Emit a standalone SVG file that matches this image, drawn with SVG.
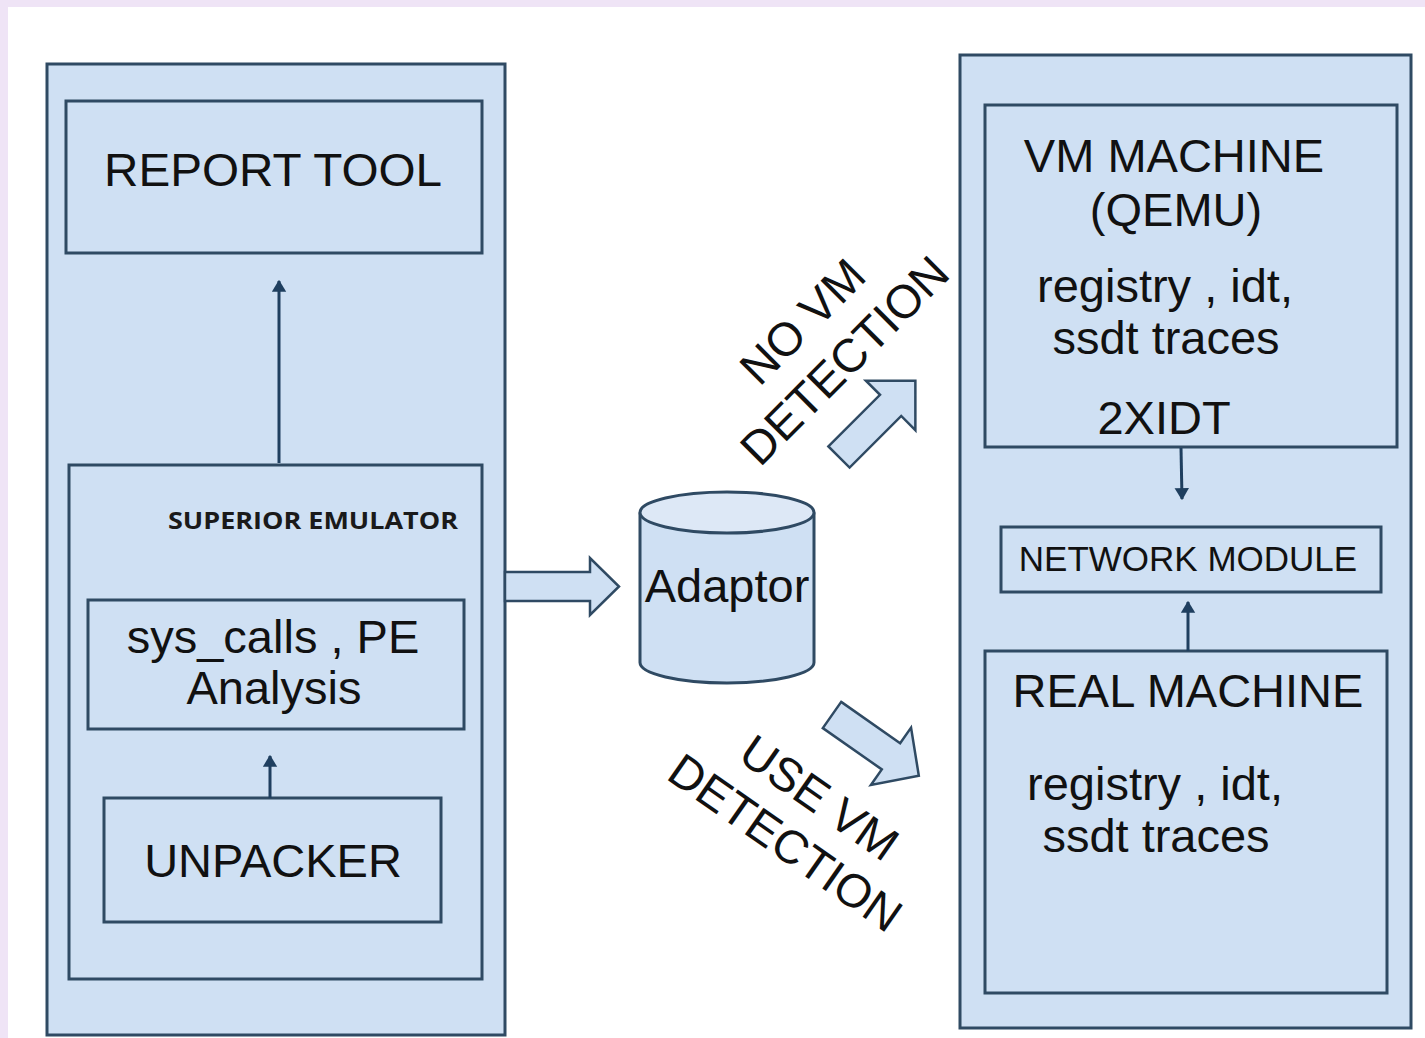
<svg xmlns="http://www.w3.org/2000/svg" width="1425" height="1038" viewBox="0 0 1425 1038">
  <defs>
    <style>
      .box { fill: #cfe0f3; stroke: #2f4a63; stroke-width: 3; }
      .big { fill: #cfe0f3; stroke: #2f4a63; stroke-width: 3; }
      .fat { fill: #cfe0f3; stroke: #2f4a63; stroke-width: 2.5; stroke-linejoin: miter; }
      .t { font-family: "Liberation Sans", Arial, sans-serif; font-size: 47px; fill: #111; text-anchor: middle; }
      .sm { font-family: "Liberation Sans", Arial, sans-serif; font-size: 35px; fill: #111; text-anchor: middle; }
      .hd { font-family: "Open Sans", "Liberation Sans", sans-serif; font-weight: bold; font-size: 24px; fill: #1a1a1a; text-anchor: middle; }
      .rot { font-family: "Liberation Sans", Arial, sans-serif; font-size: 47px; fill: #111; text-anchor: middle; }
      .link { stroke: #1f3f5f; stroke-width: 3; fill: none; marker-end: url(#tip); }
    </style>
    <marker id="tip" viewBox="0 0 10 12" refX="9" refY="6" markerUnits="userSpaceOnUse" markerWidth="12" markerHeight="15" orient="auto">
      <path d="M0,0 L10,6 L0,12 Z" fill="#1f3f5f"/>
    </marker>
  </defs>

  <!-- page -->
  <rect x="0" y="0" width="1425" height="1038" fill="#ffffff"/>
  <rect x="0" y="0" width="1425" height="7" fill="#efe4f6"/>
  <rect x="0" y="0" width="8" height="1038" fill="#efe4f6"/>

  <!-- left host column -->
  <g id="host">
    <rect class="big" x="47" y="64" width="458" height="971"/>
  </g>
  <g id="report-tool">
    <rect class="box" x="66" y="101" width="416" height="152"/>
    <text class="t" x="273" y="186" textLength="338" lengthAdjust="spacingAndGlyphs">REPORT TOOL</text>
  </g>
  <g id="superior-emulator">
    <rect class="box" x="69" y="465" width="413" height="514"/>
    <text class="hd" x="313" y="529" textLength="290" lengthAdjust="spacingAndGlyphs">SUPERIOR EMULATOR</text>
  </g>
  <g id="analysis">
    <rect class="box" x="88" y="600" width="376" height="129"/>
    <text class="t" x="273" y="653">sys_calls , PE</text>
    <text class="t" x="274" y="704">Analysis</text>
  </g>
  <g id="unpacker">
    <rect class="box" x="104" y="798" width="337" height="124"/>
    <text class="t" x="273" y="877">UNPACKER</text>
  </g>

  <!-- adaptor drum -->
  <g id="adaptor">
    <path class="box" d="M640,512.5 L640,662.5 A87,20.5 0 0 0 814,662.5 L814,512.5"/>
    <ellipse cx="727" cy="512.5" rx="87" ry="20.5" fill="#dde8f6" stroke="#2f4a63" stroke-width="3"/>
    <text class="t" x="727" y="602">Adaptor</text>
  </g>

  <!-- right machine column -->
  <g id="machines">
    <rect class="big" x="960" y="55" width="451" height="973"/>
  </g>
  <g id="vm-machine">
    <rect class="box" x="985" y="105" width="412" height="342"/>
    <text class="t" x="1174" y="172">VM MACHINE</text>
    <text class="t" x="1176" y="226">(QEMU)</text>
    <text class="t" x="1165" y="302">registry  , idt,</text>
    <text class="t" x="1166" y="354">ssdt traces</text>
    <text class="t" x="1164" y="434">2XIDT</text>
  </g>
  <g id="network-module">
    <rect class="box" x="1001" y="527" width="380" height="65"/>
    <text class="sm" x="1188" y="571">NETWORK MODULE</text>
  </g>
  <g id="real-machine">
    <rect class="box" x="985" y="651" width="402" height="342"/>
    <text class="t" x="1188" y="707">REAL MACHINE</text>
    <text class="t" x="1155" y="800">registry  , idt,</text>
    <text class="t" x="1156" y="852">ssdt traces</text>
  </g>

  <!-- path labels -->
  <g id="label-no-vm">
    <g transform="translate(814,333) rotate(-45)">
      <text class="rot" x="0" y="0">NO VM</text>
    </g>
    <g transform="translate(856,372) rotate(-45)">
      <text class="rot" x="0" y="0">DETECTION</text>
    </g>
  </g>
  <g id="label-use-vm">
    <g transform="translate(810,811) rotate(35)">
      <text class="rot" x="0" y="0">USE VM</text>
    </g>
    <g transform="translate(776,856) rotate(35)">
      <text class="rot" x="0" y="0">DETECTION</text>
    </g>
  </g>

  <!-- connectors -->
  <g id="connectors">
    <line class="link" x1="279" y1="463" x2="279" y2="281"/>
    <line class="link" x1="270" y1="798" x2="270" y2="756"/>
    <line class="link" x1="1181" y1="448" x2="1182" y2="499"/>
    <line class="link" x1="1188" y1="651" x2="1188" y2="602"/>
    <polygon class="fat" points="505,572 590,572 590,558 619,586.5 590,615 590,601 505,601"/>
    <polygon class="fat" transform="translate(839,457) rotate(-45)" points="0,-15 73,-15 73,-35 108,0 73,35 73,15 0,15"/>
    <polygon class="fat" transform="translate(832,715) rotate(35)" points="0,-16 72,-16 72,-35 106,0 72,35 72,16 0,16"/>
  </g>
</svg>
